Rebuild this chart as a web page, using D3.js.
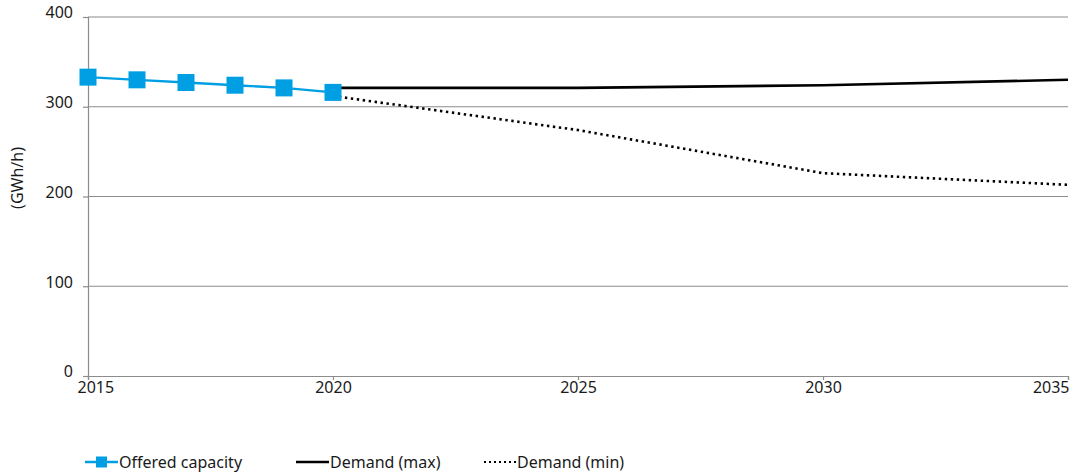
<!DOCTYPE html>
<html>
<head>
<meta charset="utf-8">
<script src="https://cdn.jsdelivr.net/npm/d3@7"></script>
<style>
  html, body { margin: 0; padding: 0; background: #fff; }
  svg text { font-family: "Noto Sans", "Open Sans", sans-serif; fill: #1a1a1a; }
</style>
</head>
<body>
<svg id="chart" width="1073" height="474"></svg>
<script>
// Offered capacity (historic) and demand scenarios, GWh/h
const offeredYears = [2015, 2016, 2017, 2018, 2019, 2020];
const offeredValues = [333, 330, 327, 324, 321, 316];

const demandYears = [2020, 2025, 2030, 2035];
const demandMax = [321, 321, 324, 330];
const demandMin = [312, 274, 226, 213];

const xTicks = [2015, 2020, 2025, 2030, 2035];
const yTicks = [0, 100, 200, 300, 400];

const seriesNames = ["Offered capacity", "Demand (max)", "Demand (min)"];

const svg = d3.select("#chart");
const margin = { left: 88, right: 5, top: 17, bottom: 98 };
const W = 1073, H = 474;
const fs = "16px";

const x = d3.scaleLinear().domain([2015, 2035]).range([margin.left, W - margin.right]);
const y = d3.scaleLinear().domain([0, 400]).range([H - margin.bottom, margin.top]);

const gridColor = "#8c8c8c";
const blue = "#009fe3";

// horizontal gridlines
svg.append("g").selectAll("line").data(yTicks.filter(d => d > 0)).join("line")
  .attr("x1", x(2015)).attr("x2", x(2035))
  .attr("y1", d => y(d)).attr("y2", d => y(d))
  .attr("stroke", gridColor).attr("stroke-width", 1.2);

// y axis
const yAxis = svg.append("g").attr("transform", `translate(${x(2015)},0)`)
  .call(d3.axisLeft(y).tickValues(yTicks).tickSize(5).tickPadding(10));
yAxis.select(".domain").attr("stroke", gridColor).attr("stroke-width", 1.2);
yAxis.selectAll(".tick line").attr("stroke", gridColor).attr("stroke-width", 1.2);
yAxis.selectAll(".tick text").style("font-size", fs).attr("dy", "0.05em");

// x axis
const xAxis = svg.append("g").attr("transform", `translate(0,${y(0)})`)
  .call(d3.axisBottom(x).tickValues(xTicks).tickFormat(d3.format("d")).tickSize(4).tickPadding(2));
xAxis.select(".domain").attr("stroke", gridColor).attr("stroke-width", 1.2);
xAxis.selectAll(".tick line").attr("stroke", gridColor).attr("stroke-width", 1.2);
xAxis.selectAll(".tick text").style("font-size", fs)
  .attr("text-anchor", d => d === 2015 ? "start" : (d === 2035 ? "end" : "middle"))
  .attr("dx", d => d === 2015 ? "-11" : (d === 2035 ? "1" : "0"));

// y axis title
svg.append("text")
  .attr("transform", `translate(23,178) rotate(-90)`)
  .attr("text-anchor", "middle").style("font-size", fs)
  .text("(GWh/h)");

const line = d3.line().x(d => x(d[0])).y(d => y(d[1]));

// demand (min), dotted
svg.append("path")
  .datum(demandYears.map((d, i) => [d, demandMin[i]]))
  .attr("d", line).attr("fill", "none")
  .attr("stroke", "#000").attr("stroke-width", 2.6)
  .attr("stroke-dasharray", "2.4,3.6");

// demand (max), solid
svg.append("path")
  .datum(demandYears.map((d, i) => [d, demandMax[i]]))
  .attr("d", line).attr("fill", "none")
  .attr("stroke", "#000").attr("stroke-width", 2.6);

// offered capacity with square markers
const offered = offeredYears.map((d, i) => [d, offeredValues[i]]);
svg.append("path").datum(offered).attr("d", line)
  .attr("fill", "none").attr("stroke", blue).attr("stroke-width", 2.4);
const ms = 17;
svg.append("g").selectAll("rect").data(offered).join("rect")
  .attr("x", d => x(d[0]) - ms / 2).attr("y", d => y(d[1]) - ms / 2)
  .attr("width", ms).attr("height", ms).attr("fill", blue);

// legend
const ly = 462;
const legend = svg.append("g");
const lg1 = legend.append("g").attr("transform", "translate(85,0)");
lg1.append("line").attr("x1", 0).attr("x2", 33).attr("y1", ly).attr("y2", ly)
  .attr("stroke", blue).attr("stroke-width", 2.4);
lg1.append("rect").attr("x", 11).attr("y", ly - 5.5).attr("width", 11).attr("height", 11).attr("fill", blue);
lg1.append("text").attr("x", 34).attr("y", ly).attr("dy", "0.35em").style("font-size", fs).text(seriesNames[0]);

const lg2 = legend.append("g").attr("transform", "translate(296,0)");
lg2.append("line").attr("x1", 0).attr("x2", 33).attr("y1", ly).attr("y2", ly)
  .attr("stroke", "#000").attr("stroke-width", 2.6);
lg2.append("text").attr("x", 34).attr("y", ly).attr("dy", "0.35em").style("font-size", fs).text(seriesNames[1]);

const lg3 = legend.append("g").attr("transform", "translate(484,0)");
lg3.append("line").attr("x1", 0).attr("x2", 32).attr("y1", ly).attr("y2", ly)
  .attr("stroke", "#000").attr("stroke-width", 2.2).attr("stroke-dasharray", "2,3");
lg3.append("text").attr("x", 33).attr("y", ly).attr("dy", "0.35em").style("font-size", fs).text(seriesNames[2]);
</script>
</body>
</html>
